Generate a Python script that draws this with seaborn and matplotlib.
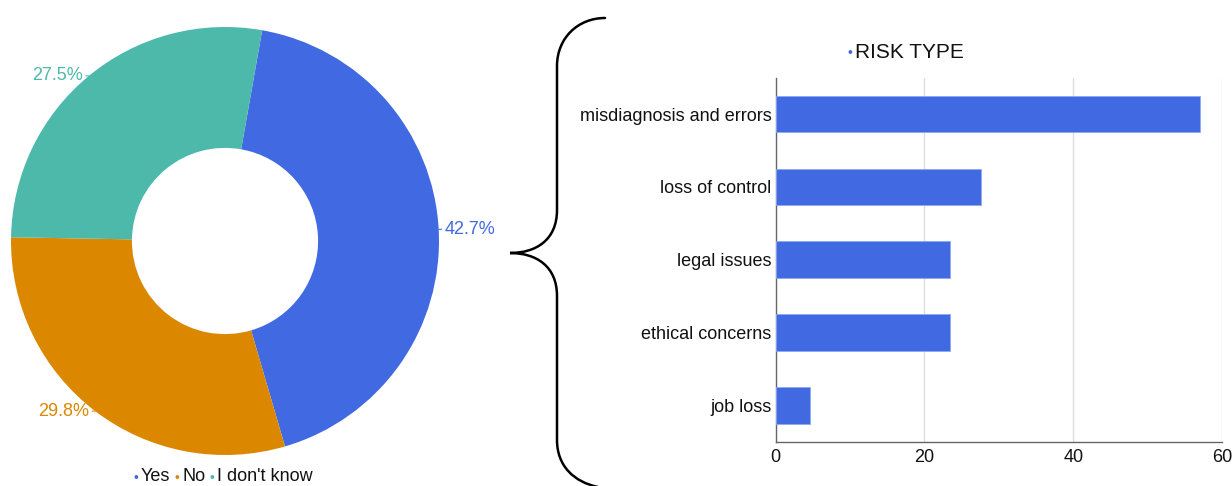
import numpy as np
import matplotlib
matplotlib.use("Agg")
import matplotlib.pyplot as plt
from matplotlib.path import Path
from matplotlib.patches import PathPatch
import seaborn as sns

# Donut: answers to the question
answers = ["Yes", "No", "I don't know"]
answer_shares = [42.7, 29.8, 27.5]
answer_colors = ["#4169E1", "#DB8800", "#4DB9AA"]

# Bars: perceived risk types
risk_types = ["misdiagnosis and errors", "loss of control", "legal issues",
              "ethical concerns", "job loss"]
risk_values = [57.0, 27.6, 23.5, 23.5, 4.7]
risk_ticks = [0, 20, 40, 60]
risk_title = "RISK TYPE"

BAR_BLUE = "#4169E1"

sns.set_style("white")
plt.rcParams["font.family"] = ["Liberation Sans", "DejaVu Sans"]

W, H = 1232, 486
fig = plt.figure(figsize=(W / 100, H / 100), dpi=100)


def px_axes(left, top, right, bottom, **kw):
    return fig.add_axes([left / W, 1 - bottom / H, (right - left) / W, (bottom - top) / H], **kw)


# overlay in pixel units for brace and legend text
ov = px_axes(0, 0, W, H)
ov.set_xlim(0, W)
ov.set_ylim(H, 0)
ov.axis("off")
ov.patch.set_alpha(0)

# ---- donut ----
axp = px_axes(11, 27, 439, 455)
wedges, _ = axp.pie(answer_shares, colors=answer_colors, startangle=80,
                    counterclock=False, radius=1,
                    wedgeprops=dict(width=0.565, linewidth=0))
axp.set_xlim(-1, 1)
axp.set_ylim(-1, 1)
axp.set_aspect("equal")
axp.axis("off")

for w, share, col in zip(wedges, answer_shares, answer_colors):
    mid = np.deg2rad((w.theta1 + w.theta2) / 2)
    x, y = np.cos(mid), np.sin(mid)
    right = x > 0
    axp.annotate(f"{share:.1f}%", xy=(x, y), xytext=(4.5 if right else -4.5, 0),
                 textcoords="offset points", ha="left" if right else "right",
                 va="center", fontsize=13, color=col, annotation_clip=False,
                 arrowprops=dict(arrowstyle="-", color=col, lw=0.8,
                                 shrinkA=0, shrinkB=0))

# donut legend along the bottom
legend_x = [136, 177, 212]
for lx, name, col in zip(legend_x, answers, answer_colors):
    ov.text(lx, 478, "•", color=col, fontsize=10, ha="center", va="center")
    ov.text(lx + 5, 476, name, color="#111111", fontsize=13, ha="left", va="center")

# ---- curly brace ----
verts = [
    (605, 18),
    (578, 18), (557, 38), (557, 66),
    (557, 210),
    (557, 240), (536, 253), (510, 253),
    (536, 253), (557, 266), (557, 296),
    (557, 440),
    (557, 466), (574, 482), (598, 487),
]
codes = [Path.MOVETO,
         Path.CURVE4, Path.CURVE4, Path.CURVE4,
         Path.LINETO,
         Path.CURVE4, Path.CURVE4, Path.CURVE4,
         Path.CURVE4, Path.CURVE4, Path.CURVE4,
         Path.LINETO,
         Path.CURVE4, Path.CURVE4, Path.CURVE4]
ov.add_patch(PathPatch(Path(verts, codes), facecolor="none", edgecolor="black",
                       lw=1.8, capstyle="round", clip_on=False))

# ---- horizontal bars ----
axb = px_axes(775.5, 77.7, 1222.3, 441.7)
sns.barplot(x=risk_values, y=risk_types, orient="h", color=BAR_BLUE,
            saturation=1, width=0.5, edgecolor="#8FA8F0", linewidth=0.6,
            ax=axb, zorder=3)
axb.set_xlim(0, 60)
axb.set_ylim(4.5, -0.5)
axb.set_xticks(risk_ticks)
axb.set_xticklabels([str(t) for t in risk_ticks])
axb.set_yticks(range(len(risk_types)))
axb.set_yticklabels(risk_types)
axb.set_yticks([0.5, 1.5, 2.5, 3.5], minor=True)
axb.tick_params(axis="y", which="major", length=0, pad=3, labelsize=13, labelcolor="#111111")
axb.tick_params(axis="y", which="minor", length=3, width=0.8, color="#666666", direction="out")
axb.tick_params(axis="x", which="major", length=3, width=0.8, color="#666666",
                direction="out", pad=2, labelsize=13, labelcolor="#111111")
axb.set_xlabel("")
axb.set_ylabel("")
axb.grid(axis="x", color="#DDDDDD", lw=1, zorder=0)
axb.grid(axis="y", visible=False)
for side in ("top", "right"):
    axb.spines[side].set_visible(False)
for side in ("left", "bottom"):
    axb.spines[side].set_color("#666666")
    axb.spines[side].set_linewidth(1)
axb.set_axisbelow(True)

# bar legend
ov.text(850, 53, "•", color=BAR_BLUE, fontsize=10, ha="center", va="center")
ov.text(855, 52, risk_title, color="#111111", fontsize=15, ha="left", va="center")

fig.savefig("out.png", dpi=100)
